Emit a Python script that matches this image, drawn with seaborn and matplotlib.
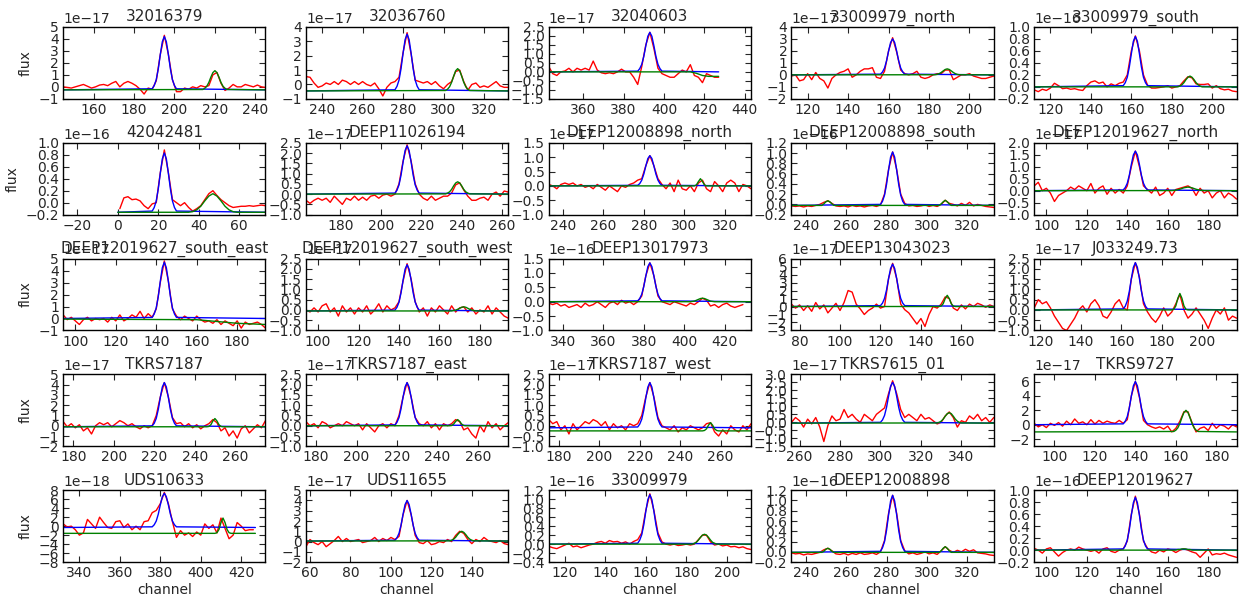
import numpy as np
import matplotlib
matplotlib.use("Agg")
import matplotlib.pyplot as plt
from matplotlib.ticker import MultipleLocator
import seaborn as sns

# ---------------- data ----------------
names = ["32016379", "32036760", "32040603", "33009979_north", "33009979_south",
         "42042481", "DEEP11026194", "DEEP12008898_north", "DEEP12008898_south", "DEEP12019627_north",
         "DEEP12019627_south_east", "DEEP12019627_south_west", "DEEP13017973", "DEEP13043023", "J033249.73",
         "TKRS7187", "TKRS7187_east", "TKRS7187_west", "TKRS7615_01", "TKRS9727",
         "UDS10633", "UDS11655", "33009979", "DEEP12008898", "DEEP12019627"]

exponents = [-17, -17, -17, -17, -16,
             -16, -17, -17, -16, -17,
             -17, -17, -16, -17, -17,
             -17, -17, -17, -17, -17,
             -18, -17, -16, -16, -16]

x_lo = [145, 232, 343, 112, 112, -27, 163, 233, 233, 94,
        94, 94, 333, 76, 117, 175, 175, 175, 256, 90,
        332, 58, 112, 233, 94]

y_lo = [-1, -1, -1.5, -2, -0.2, -0.2, -1.0, -1.0, -0.2, -1.0,
        -1, -1.0, -1.0, -3, -1.0, -2, -1.0, -1.0, -1.5, -3,
        -8, -2, -0.4, -0.2, -0.2]
y_hi = [5, 4, 2.5, 4, 1.0, 1.0, 2.5, 1.5, 1.2, 2.0,
        5, 2.5, 1.5, 6, 2.5, 5, 2.5, 2.5, 3.0, 7,
        8, 5, 1.2, 1.2, 1.0]
y_step = [1, 1, 0.5, 1, 0.2, 0.2, 0.5, 0.5, 0.2, 0.5,
          1, 0.5, 0.5, 1, 0.5, 1, 0.5, 0.5, 0.5, 2,
          2, 1, 0.2, 0.2, 0.2]

# observed spectra: first channel, sampled every 2 channels
red_x0 = [145, 232, 343, 112, 112, 1, 163, 233, 233, 94,
          94, 94, 333, 76, 117, 175, 175, 175, 256, 90,
          332, 58, 112, 233, 94]
red_y = [
    [0.0,-0.05,-0.1,0.0,0.1,0.2,0.05,-0.1,0.0,0.15,0.2,0.1,0.3,0.45,0.0,0.3,0.45,0.3,0.1,-0.2,-0.6,-0.1,-0.2,0.5,2.7,4.3,2.7,0.6,-0.4,-0.4,-0.1,-0.2,0.0,-0.1,0.1,0.0,0.1,1.0,1.2,0.3,-0.3,-0.1,0.2,0.0,0.0,0.2,0.1,0.0,0.15,0.0,-0.05],
    [0.55,0.5,0.1,-0.2,-0.1,0.1,0.0,0.2,0.0,0.3,0.2,0.0,0.2,0.0,0.2,0.0,-0.1,0.1,-0.3,-0.8,-0.2,0.1,0.2,0.5,2.2,3.6,2.1,0.3,0.2,0.1,0.2,0.0,0.2,-0.1,-0.3,0.0,0.2,0.9,1.0,0.2,-0.4,0.0,0.1,-0.2,-0.1,-0.2,0.0,0.2,-0.1,-0.2,-0.2],
    [0.3,-0.1,-0.2,0.0,0.05,0.2,0.0,0.2,0.1,0.2,0.1,0.6,0.1,-0.05,-0.1,-0.05,-0.1,0.0,0.15,0.0,0.0,-0.3,-0.7,0.3,1.5,2.2,1.3,0.2,-0.1,-0.2,-0.3,-0.3,-0.1,0.1,0.0,0.4,-0.2,-0.3,-0.6,-0.1,-0.2,-0.3,-0.3],
    [-0.1,0.0,-0.5,-0.4,0.1,-0.4,0.2,-0.3,-0.5,-1.1,-0.3,0.0,0.2,0.3,0.5,-0.2,0.0,0.3,0.5,0.5,0.6,-0.2,-0.3,0.3,2.0,3.1,1.9,0.4,0.1,0.0,0.1,0.3,-0.2,-0.3,-0.2,0.0,0.1,0.1,0.4,0.4,-0.4,-0.2,0.0,0.0,0.1,-0.1,-0.2,-0.3,-0.3,-0.2,-0.1],
    [-0.05,-0.08,-0.04,-0.06,-0.02,0.06,0.02,-0.03,-0.02,-0.04,-0.03,-0.05,-0.06,0.02,0.08,0.1,0.06,0.08,0.0,0.05,0.02,0.06,0.08,0.2,0.6,0.85,0.6,0.2,0.03,-0.02,-0.02,-0.01,0.0,0.02,-0.02,0.0,0.02,0.1,0.17,0.15,0.05,0.04,0.04,0.05,-0.02,0.02,-0.03,-0.05,-0.04,-0.07,-0.08],
    [-0.1,0.08,0.1,0.05,0.06,0.03,-0.05,-0.1,-0.02,0.0,0.5,0.88,0.5,0.05,0.0,-0.05,0.0,-0.08,-0.14,-0.1,-0.05,0.05,0.15,0.2,0.12,0.05,0.0,-0.05,-0.08,-0.07,-0.06,-0.06,-0.05,-0.06,-0.05,-0.04,-0.05],
    [-0.3,-0.45,-0.3,-0.2,-0.3,-0.2,-0.4,-0.1,-0.3,-0.5,-0.2,-0.3,-0.1,-0.3,-0.15,-0.3,-0.1,-0.05,-0.2,-0.05,0.0,-0.1,0.0,0.5,1.6,2.4,1.6,0.5,0.0,-0.2,-0.3,-0.1,-0.3,-0.2,-0.1,-0.1,0.05,0.45,0.55,0.2,-0.1,-0.3,-0.3,-0.2,-0.15,-0.3,0.0,0.1,-0.1,0.15,0.1],
    [0.05,0.0,-0.1,0.05,0.1,0.05,0.1,0.0,0.05,-0.05,0.0,-0.1,0.05,-0.05,-0.15,0.0,-0.1,-0.2,0.0,-0.05,0.05,0.1,0.2,0.25,0.7,1.05,0.7,0.25,0.05,-0.1,0.1,-0.2,0.2,-0.1,-0.15,0.0,-0.2,0.1,0.2,-0.1,-0.2,0.15,0.0,-0.2,0.1,0.2,0.1,-0.2,0.05,0.0,-0.1],
    [-0.03,-0.04,-0.03,-0.05,-0.03,-0.04,-0.02,0.0,0.04,0.07,0.02,-0.03,-0.04,-0.03,-0.05,-0.02,-0.04,-0.03,-0.05,-0.03,-0.02,-0.04,-0.01,0.2,0.68,1.02,0.68,0.2,0.02,-0.03,-0.02,-0.04,-0.03,-0.01,-0.04,-0.02,-0.04,0.0,0.08,0.02,0.0,-0.03,0.02,-0.02,0.04,-0.03,0.0,-0.02,-0.04,-0.05,-0.06],
    [0.2,0.35,0.0,0.1,-0.1,-0.45,-0.2,-0.1,0.0,0.15,0.05,0.2,0.1,0.0,0.3,-0.1,0.1,0.2,-0.15,0.1,-0.1,0.05,-0.1,0.2,1.0,1.65,1.0,0.2,0.05,-0.1,0.15,-0.2,-0.1,0.1,-0.2,0.05,0.1,0.15,0.2,0.1,-0.2,0.1,-0.1,0.0,-0.3,-0.1,0.0,-0.3,-0.1,-0.2,-0.35],
    [0.3,-0.1,0.1,-0.2,-0.5,-0.1,0.1,-0.2,0.0,-0.1,0.0,-0.3,0.1,-0.2,0.3,-0.2,0.0,0.3,0.1,0.6,0.0,0.4,0.1,0.8,3.0,4.8,3.1,0.8,0.2,-0.1,0.2,0.0,-0.2,0.2,-0.1,-0.3,-0.2,-0.4,-0.1,-0.5,-0.2,-0.4,-0.6,-0.2,-0.8,-0.3,-0.5,-0.4,-0.3,-0.5,-0.8],
    [0.0,-0.1,0.1,-0.1,0.2,0.3,-0.1,0.1,-0.3,0.2,-0.1,0.1,-0.2,0.1,-0.1,0.2,-0.2,0.0,0.3,-0.1,0.2,0.0,0.1,0.4,1.4,2.25,1.5,0.4,-0.1,0.1,-0.3,0.1,-0.1,0.2,0.0,-0.2,0.2,-0.1,0.1,0.15,-0.1,0.1,-0.2,0.0,-0.1,0.2,-0.2,0.1,-0.1,-0.3,-0.4],
    [-0.05,-0.1,-0.05,-0.15,-0.1,-0.2,-0.15,-0.1,-0.2,-0.05,-0.15,-0.1,0.0,-0.1,-0.2,-0.05,0.0,-0.1,0.05,-0.05,0.0,-0.1,0.0,0.2,0.9,1.35,0.9,0.2,0.0,-0.05,-0.1,0.0,-0.05,-0.1,-0.15,-0.05,-0.1,0.0,0.12,0.05,-0.15,-0.1,-0.2,-0.1,-0.05,-0.15,-0.2,-0.15,-0.1],
    [0.3,-0.2,0.2,-0.5,0.1,-0.6,0.5,-0.3,0.2,-0.8,-0.2,0.4,-0.5,0.5,2.0,1.8,0.3,-0.3,-1.0,-0.5,-0.2,0.3,-0.2,0.0,3.5,5.4,3.5,0.3,-0.4,-0.8,-1.5,-2.2,-1.5,-2.5,-1.0,0.0,-0.2,0.3,1.2,1.0,-0.2,-0.5,0.2,-0.3,0.3,0.0,0.4,0.2,-0.1,0.2,0.0],
    [0.1,0.5,0.3,0.4,0.1,-0.3,-0.6,-0.9,-1.0,-0.7,-0.4,0.0,0.2,-0.1,0.3,0.5,0.2,-0.3,-0.4,-0.1,0.3,0.5,0.1,0.0,1.5,2.3,1.6,0.3,-0.1,-0.4,-0.6,-0.3,0.1,-0.3,-0.1,0.3,0.75,0.0,-0.4,-0.2,0.1,-0.2,-0.5,-0.9,-0.4,0.0,-0.2,0.1,-0.5,-0.3,-0.4],
    [0.4,-0.1,0.2,-0.2,0.1,-0.5,-0.2,-0.8,0.0,0.3,0.1,0.3,-0.1,0.2,0.5,0.3,0.0,0.2,-0.1,-0.3,0.0,-0.2,0.0,1.0,2.8,4.2,2.8,0.8,0.2,0.3,-0.1,0.2,-0.2,0.1,-0.3,0.0,0.2,0.6,0.3,-0.5,-0.2,-1.0,-0.5,-1.2,-0.3,0.0,-0.7,-0.3,0.1,-0.2,0.5],
    [0.2,0.0,0.1,-0.1,0.2,0.1,-0.1,0.0,0.1,0.0,0.2,0.1,0.0,0.1,-0.2,0.1,-0.1,-0.3,0.0,0.1,-0.1,0.1,0.0,0.5,1.4,2.1,1.4,0.4,0.1,0.0,0.2,-0.1,0.1,-0.2,0.1,0.0,0.1,0.3,0.2,-0.2,-0.1,-0.4,-0.6,0.0,-0.3,0.2,-0.1,0.1,-0.2,0.0,0.15],
    [0.3,0.1,0.2,-0.2,0.0,-0.4,0.1,-0.2,0.0,0.2,0.1,0.3,0.2,0.0,0.2,-0.2,0.1,-0.1,0.0,-0.2,0.1,0.0,0.1,0.5,1.4,2.1,1.4,0.4,0.0,-0.1,-0.2,0.0,-0.3,-0.1,-0.2,0.0,-0.1,-0.2,-0.1,0.1,0.15,-0.3,-0.5,-0.2,-0.4,0.0,-0.2,-0.3,0.0,-0.2,0.1],
    [0.0,0.3,0.1,-0.3,0.2,-0.1,0.3,-0.3,-1.2,-0.2,0.4,0.1,0.2,0.8,0.3,0.5,0.2,0.0,0.5,0.3,0.1,0.5,0.7,0.9,1.8,2.6,1.8,0.8,0.3,0.5,0.3,0.1,0.5,0.2,0.3,0.1,-0.1,0.0,0.4,0.65,0.3,-0.3,0.1,0.0,0.4,0.2,0.5,0.1,0.3,0.0,0.3],
    [0.2,-0.3,0.0,-0.4,0.2,-0.1,0.3,-0.2,0.5,0.0,0.8,0.2,0.4,0.0,0.7,0.1,0.6,0.2,0.5,0.3,0.2,0.6,0.2,0.7,4.0,6.0,3.8,0.6,0.0,-0.3,-0.5,-0.3,-0.6,-0.2,-1.0,-0.5,0.5,1.8,1.8,0.3,-1.0,-0.5,-0.3,-0.8,0.2,-0.5,0.0,-0.2,-0.6,0.0,-0.3],
    [0.5,-0.2,0.0,-0.8,-2.0,-1.5,1.5,0.5,-0.5,2.0,0.8,-0.3,-0.5,1.0,1.2,-0.3,0.5,-0.8,0.0,-0.8,1.0,1.2,3.0,3.5,5.0,7.5,5.0,1.0,-2.5,-1.0,-2.0,-1.5,-2.3,-1.3,-2.0,0.5,-0.5,0.3,-1.5,1.8,-0.5,-2.8,-2.0,0.8,0.0,-1.0,-0.8,-0.8],
    [-0.5,0.2,-0.1,-0.3,0.0,-0.5,-0.2,0.1,0.5,0.0,0.3,0.0,0.1,0.2,-0.1,0.0,0.1,0.4,0.0,0.3,0.1,0.4,0.2,0.5,2.6,4.0,2.6,0.6,-0.1,-0.2,0.1,-0.3,-0.2,0.0,-0.1,0.2,0.0,0.6,1.0,0.8,0.2,-0.2,0.2,0.0,0.4,0.1,0.0,-0.1,0.1,-0.2,-0.3],
    [-0.05,-0.08,-0.1,-0.06,-0.02,0.02,-0.06,-0.04,-0.08,-0.05,-0.02,0.0,0.04,0.06,0.02,0.08,0.05,0.06,0.02,0.05,0.0,0.06,0.1,0.25,0.75,1.12,0.75,0.25,0.05,0.0,-0.02,0.0,-0.03,-0.02,0.0,-0.02,0.0,0.1,0.2,0.2,0.05,-0.02,0.0,-0.04,-0.02,-0.06,-0.05,-0.08,-0.06,-0.1,-0.12],
    [-0.02,-0.04,-0.03,-0.06,-0.04,-0.05,-0.03,-0.01,0.04,0.07,0.02,-0.04,-0.05,-0.03,-0.06,-0.03,-0.05,-0.02,-0.05,-0.04,-0.02,-0.05,0.0,0.22,0.75,1.1,0.75,0.22,0.02,-0.04,-0.02,-0.05,-0.03,0.0,-0.04,-0.02,-0.05,0.02,0.1,0.03,-0.01,0.03,0.0,0.05,0.01,0.04,-0.02,-0.03,-0.04,-0.06,-0.07],
    [0.03,0.0,-0.05,0.02,0.04,-0.03,-0.1,-0.04,0.0,0.02,0.0,0.05,0.02,0.0,-0.02,0.0,-0.05,0.02,0.04,-0.02,-0.04,0.0,0.02,0.15,0.6,0.9,0.6,0.15,0.03,-0.03,-0.05,0.0,-0.03,0.02,0.0,-0.04,0.0,0.02,0.0,-0.03,-0.05,-0.12,-0.05,0.02,-0.08,-0.06,-0.07,-0.05,-0.08,-0.1,-0.12],
]

# main-line fit (blue)
blue_x = [
    [145, *range(189, 202), 245], [232, *range(276, 289), 332], [343, *range(387, 400), 427],
    [112, *range(156, 169), 212], [112, *range(156, 169), 212],
    [0, *range(17, 30), 73], [163, *range(207, 220), 263], [233, *range(277, 290), 333],
    [233, *range(277, 290), 333], [94, *range(138, 151), 194],
    [94, *range(138, 151), 194], [94, *range(138, 151), 194], [333, *range(377, 390), 433],
    [76, *range(120, 133), 176], [117, *range(161, 174), 217],
    [175, *range(219, 232), 275], [175, *range(219, 232), 275], [175, *range(219, 232), 275],
    [256, *range(300, 313), 356], [90, *range(134, 147), 190],
    [332, *range(376, 389), 427], [58, *range(102, 115), 158], [112, *range(156, 169), 212],
    [233, *range(277, 290), 333], [94, *range(138, 151), 194],
]
blue_y = [
    [-0.25,-0.16,0.11,0.60,1.49,2.69,3.76,4.2,3.76,2.69,1.49,0.60,0.11,-0.16,-0.25],
    [-0.45,-0.37,-0.13,0.30,1.09,2.16,3.11,3.5,3.11,2.16,1.09,0.30,-0.13,-0.37,-0.45],
    [0,0.04,0.18,0.42,0.86,1.45,1.98,2.2,1.98,1.45,0.86,0.42,0.18,0.04,0],
    [0,0.06,0.24,0.57,1.17,1.98,2.7,3.0,2.7,1.98,1.17,0.57,0.24,0.06,0],
    [0,0.02,0.07,0.16,0.33,0.55,0.76,0.84,0.76,0.55,0.33,0.16,0.07,0.02,0],
    [-0.16,-0.14,-0.08,0.03,0.23,0.49,0.73,0.83,0.73,0.49,0.23,0.03,-0.08,-0.14,-0.16],
    [0,0.05,0.19,0.45,0.92,1.55,2.12,2.35,2.12,1.55,0.92,0.45,0.19,0.05,0],
    [0,0.02,0.08,0.2,0.41,0.69,0.95,1.05,0.95,0.69,0.41,0.2,0.08,0.02,0],
    [-0.02,0.0,0.06,0.18,0.39,0.67,0.92,1.02,0.92,0.67,0.39,0.18,0.06,0.0,-0.02],
    [0,0.03,0.13,0.31,0.64,1.09,1.49,1.65,1.49,1.09,0.64,0.31,0.13,0.03,0],
    [0,0.09,0.38,0.89,1.83,3.10,4.23,4.7,4.23,3.10,1.83,0.89,0.38,0.09,0],
    [-0.05,-0.01,0.13,0.38,0.83,1.44,1.98,2.2,1.98,1.44,0.83,0.38,0.13,-0.01,-0.05],
    [0,0.03,0.11,0.26,0.53,0.89,1.22,1.35,1.22,0.89,0.53,0.26,0.11,0.03,0],
    [0,0.11,0.42,1.01,2.07,3.5,4.77,5.3,4.77,3.5,2.07,1.01,0.42,0.11,0],
    [0,0.05,0.18,0.44,0.9,1.52,2.07,2.3,2.07,1.52,0.9,0.44,0.18,0.05,0],
    [-0.1,-0.01,0.24,0.72,1.58,2.74,3.77,4.2,3.77,2.74,1.58,0.72,0.24,-0.01,-0.1],
    [0,0.04,0.17,0.4,0.82,1.39,1.89,2.1,1.89,1.39,0.82,0.4,0.17,0.04,0],
    [-0.1,-0.06,0.08,0.32,0.76,1.35,1.88,2.1,1.88,1.35,0.76,0.32,0.08,-0.06,-0.1],
    [-0.05,0.0,0.15,0.43,0.94,1.63,2.25,2.5,2.25,1.63,0.94,0.43,0.15,0.0,-0.05],
    [0,0.12,0.48,1.14,2.34,3.96,5.4,6.0,5.4,3.96,2.34,1.14,0.48,0.12,0],
    [-0.3,-0.15,0.31,1.14,2.66,4.72,6.54,7.3,6.54,4.72,2.66,1.14,0.31,-0.15,-0.3],
    [0.05,0.13,0.37,0.8,1.59,2.66,3.6,4.0,3.6,2.66,1.59,0.8,0.37,0.13,0.05],
    [0,0.02,0.09,0.21,0.43,0.73,0.99,1.1,0.99,0.73,0.43,0.21,0.09,0.02,0],
    [-0.01,0.01,0.08,0.2,0.42,0.72,0.99,1.1,0.99,0.72,0.42,0.2,0.08,0.01,-0.01],
    [0,0.02,0.07,0.17,0.34,0.58,0.79,0.88,0.79,0.58,0.34,0.17,0.07,0.02,0],
]

# secondary-line fit (green)
green_x = [
    [145, *range(214, 227), 245], [232, *range(301, 314), 332], [343, 410, 413, 416, 419, 422, 427],
    [112, *range(183, 196), 212], [112, *range(183, 196), 212],
    [0, *range(35, 60, 2), 73], [163, *range(232, 245), 263], [233, *range(305, 312), 333],
    [233, *range(248, 255), *range(306, 313), 333], [94, *range(162, 179, 2), 194],
    [94, 160, 170, 180, 194], [94, *range(166, 179), 194], [333, *range(403, 416), 433],
    [76, *range(149, 158), 176], [117, *range(185, 194), 217],
    [175, *range(246, 255), 275], [175, *range(246, 255), 275], [175, *range(251, 260), 275],
    [256, *range(328, 341), 356], [90, *range(159, 172), 190],
    [332, *range(407, 416), 427], [58, *range(129, 142), 158], [112, *range(183, 196), 212],
    [233, *range(248, 255), *range(306, 313), 333], [94, *range(162, 175), 194],
]
green_y = [
    [-0.25,-0.22,-0.12,0.05,0.37,0.81,1.19,1.35,1.19,0.81,0.37,0.05,-0.12,-0.22,-0.25],
    [-0.45,-0.42,-0.33,-0.16,0.15,0.57,0.95,1.1,0.95,0.57,0.15,-0.16,-0.33,-0.42,-0.45],
    [0,0,0,-0.08,-0.2,-0.25,-0.25],
    [0,0.01,0.04,0.1,0.2,0.33,0.45,0.5,0.45,0.33,0.2,0.1,0.04,0.01,0],
    [0,0,0.014,0.034,0.07,0.12,0.16,0.18,0.16,0.12,0.07,0.034,0.014,0,0],
    [-0.16,-0.16,-0.15,-0.12,-0.06,0.03,0.11,0.15,0.11,0.03,-0.06,-0.12,-0.15,-0.16,-0.16],
    [0,0.01,0.05,0.11,0.23,0.4,0.54,0.6,0.54,0.4,0.23,0.11,0.05,0.01,0],
    [0,0,0.035,0.15,0.25,0.15,0.035,0,0],
    [-0.02,-0.02,0.01,0.05,0.07,0.05,0.01,-0.02,-0.02,0.01,0.05,0.08,0.05,0.01,-0.02,-0.02],
    [0,0.005,0.02,0.06,0.12,0.15,0.12,0.06,0.02,0.005,0],
    [-0.05,-0.1,-0.25,-0.4,-0.5],
    [-0.05,-0.05,-0.03,-0.01,0.03,0.08,0.13,0.15,0.13,0.08,0.03,-0.01,-0.03,-0.05,-0.05],
    [0,0,0.01,0.02,0.05,0.08,0.11,0.12,0.11,0.08,0.05,0.02,0.01,0,0],
    [0,0,0.06,0.35,0.99,1.4,0.99,0.35,0.06,0,0],
    [0,0,0.03,0.2,0.57,0.8,0.57,0.2,0.03,0,0],
    [-0.1,-0.1,-0.07,0.1,0.47,0.7,0.47,0.1,-0.07,-0.1,-0.1],
    [0,0,0.01,0.08,0.21,0.3,0.21,0.08,0.01,0,0],
    [-0.25,-0.25,-0.23,-0.15,0.03,0.15,0.03,-0.15,-0.23,-0.25,-0.25],
    [-0.05,-0.04,0.0,0.07,0.2,0.38,0.54,0.6,0.54,0.38,0.2,0.07,0.0,-0.04,-0.05],
    [-1.0,-0.94,-0.76,-0.43,0.17,0.98,1.7,2.0,1.7,0.98,0.17,-0.43,-0.76,-0.94,-1.0],
    [-1.6,-1.6,-1.46,-0.75,0.81,1.8,0.81,-0.75,-1.46,-1.6,-1.6],
    [0.05,0.07,0.13,0.23,0.42,0.68,0.9,1.0,0.9,0.68,0.42,0.23,0.13,0.07,0.05],
    [0,0,0.02,0.04,0.09,0.15,0.2,0.22,0.2,0.15,0.09,0.04,0.02,0,0],
    [-0.01,-0.01,0.01,0.05,0.07,0.05,0.01,-0.01,-0.01,0.02,0.07,0.1,0.07,0.02,-0.01,-0.01],
    [0,0,0,0,0.01,0.01,0.02,0.02,0.02,0.01,0.01,0,0,0,0],
]

# ---------------- style ----------------
sns.set_theme(style="ticks")
plt.rcParams.update({
    "font.family": ["DejaVu Sans"],
    "axes.edgecolor": "black",
    "axes.linewidth": 1.0,
    "xtick.direction": "in",
    "ytick.direction": "in",
    "xtick.major.size": 4,
    "ytick.major.size": 4,
    "xtick.major.width": 0.8,
    "ytick.major.width": 0.8,
    "xtick.labelsize": 10,
    "ytick.labelsize": 10,
    "axes.unicode_minus": True,
})

fig, axes = plt.subplots(5, 5, figsize=(12.39, 5.98), dpi=100)
fig.subplots_adjust(left=0.051, right=0.998, top=0.955, bottom=0.06,
                    wspace=0.2, hspace=0.61)

for i, ax in enumerate(axes.flat):
    scale = 10.0 ** exponents[i]
    ry = np.array(red_y[i]) * scale
    rx = red_x0[i] + 2 * np.arange(len(ry))
    sns.lineplot(x=rx, y=ry, ax=ax, color="red", lw=1.0, estimator=None, sort=False, legend=False)
    sns.lineplot(x=np.array(blue_x[i]), y=np.array(blue_y[i]) * scale, ax=ax, color="blue",
                 lw=1.0, estimator=None, sort=False, legend=False)
    sns.lineplot(x=np.array(green_x[i]), y=np.array(green_y[i]) * scale, ax=ax, color="green",
                 lw=1.0, estimator=None, sort=False, legend=False)

    ax.set_xlim(x_lo[i], x_lo[i] + 100)
    ax.set_ylim(y_lo[i] * scale, y_hi[i] * scale)
    ax.xaxis.set_major_locator(MultipleLocator(20))
    ax.yaxis.set_major_locator(MultipleLocator(y_step[i] * scale))
    ax.tick_params(top=True, right=True, direction="in", pad=3)
    ax.yaxis.get_offset_text().set_fontsize(10)
    # fixed title position (no automatic lifting above the offset text)
    ax.set_title(names[i], fontsize=11, y=1.0, pad=4)
    ax.set_xlabel("channel" if i >= 20 else "", fontsize=10, labelpad=2)
    ax.set_ylabel("flux" if i % 5 == 0 else "", fontsize=10)
    for s in ax.spines.values():
        s.set_visible(True)
        s.set_color("black")

fig.savefig("out.png", dpi=100, facecolor="white")
